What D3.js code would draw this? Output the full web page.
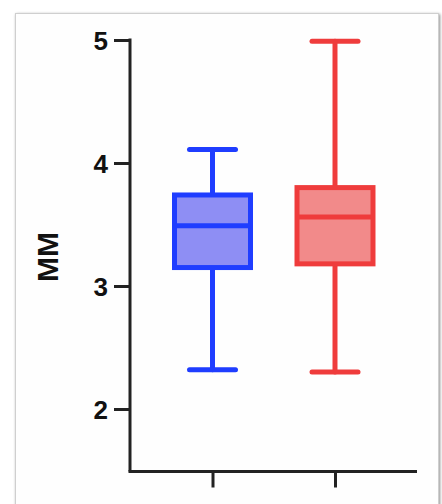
<!DOCTYPE html>
<html><head><meta charset="utf-8">
<script src="https://cdn.jsdelivr.net/npm/d3@7"></script>
<style>html,body{margin:0;padding:0;background:#fff;}svg{display:block;}</style>
</head><body>
<svg id="c" width="442" height="504"></svg>
<script>
const groups = ["A", "B"];
const mins = [2.32, 2.30];
const q1s = [3.15, 3.18];
const medians = [3.49, 3.56];
const q3s = [3.74, 3.80];
const maxs = [4.11, 4.99];
const strokeColors = ["#1f3dff", "#ef3c3c"];
const fillColors = ["#8e8ef4", "#f28a8a"];
const yTicks = [2, 3, 4, 5];
const yLabel = "MM";

const svg = d3.select("#c");
// frame with soft shadow
const defs = svg.append("defs");
const f = defs.append("filter").attr("id","sh").attr("x","-5%").attr("y","-5%").attr("width","110%").attr("height","110%");
f.append("feGaussianBlur").attr("in","SourceAlpha").attr("stdDeviation",1.5).attr("result","b");
f.append("feOffset").attr("in","b").attr("dx",1).attr("dy",1).attr("result","o");
f.append("feComponentTransfer").attr("in","o").attr("result","o2").append("feFuncA").attr("type","linear").attr("slope",0.45);
const m = f.append("feMerge"); m.append("feMergeNode").attr("in","o2"); m.append("feMergeNode").attr("in","SourceGraphic");
svg.append("rect").attr("x",15.5).attr("y",13.5).attr("width",423).attr("height",520)
  .attr("fill","#fefefe").attr("stroke","#cfcfcf").attr("stroke-width",1).attr("filter","url(#sh)");

const x = d3.scalePoint().domain(groups).range([212.5, 335]);
const y = d3.scaleLinear().domain([2, 5]).range([409, 40]);
const axisX0 = 130, axisY0 = 471.5, axisX1 = 417;

// y axis
const ya = svg.append("g").attr("transform", `translate(${axisX0},0)`)
  .call(d3.axisLeft(y).tickValues(yTicks).tickFormat(d3.format("d")).tickSize(16).tickSizeOuter(0));
ya.select(".domain").remove();
ya.selectAll(".tick line").attr("stroke","#222").attr("stroke-width",3);
ya.selectAll(".tick text").attr("font-family","Liberation Sans, Arial, sans-serif")
  .attr("font-weight","bold").attr("font-size",26).attr("fill","#111").attr("x",-22).attr("dy","0.36em");
svg.append("line").attr("x1",axisX0).attr("x2",axisX0).attr("y1",y(5)-1.5).attr("y2",axisY0)
  .attr("stroke","#222").attr("stroke-width",3);

// x axis
const xa = svg.append("g").attr("transform", `translate(0,${axisY0})`)
  .call(d3.axisBottom(x).tickSize(16).tickFormat(""));
xa.select(".domain").remove();
xa.selectAll(".tick line").attr("stroke","#222").attr("stroke-width",3);
svg.append("line").attr("x1",axisX0-1.5).attr("x2",axisX1).attr("y1",axisY0).attr("y2",axisY0)
  .attr("stroke","#222").attr("stroke-width",3);

// y label
svg.append("text").attr("transform","translate(58,257) rotate(-90)").attr("text-anchor","middle")
  .attr("font-family","Liberation Sans, Arial, sans-serif").attr("font-weight","bold").attr("font-size",30)
  .attr("fill","#111").text(yLabel);

// boxes
const boxW = 76, capW = 46, sw = 5;
groups.forEach((g, i) => {
  const cx = x(g);
  const gg = svg.append("g").attr("stroke", strokeColors[i]).attr("stroke-width", sw).attr("stroke-linecap","round");
  gg.append("line").attr("x1",cx).attr("x2",cx).attr("y1",y(maxs[i])).attr("y2",y(q3s[i]));
  gg.append("line").attr("x1",cx).attr("x2",cx).attr("y1",y(q1s[i])).attr("y2",y(mins[i]));
  gg.append("line").attr("x1",cx-capW/2).attr("x2",cx+capW/2).attr("y1",y(maxs[i])).attr("y2",y(maxs[i]));
  gg.append("line").attr("x1",cx-capW/2).attr("x2",cx+capW/2).attr("y1",y(mins[i])).attr("y2",y(mins[i]));
  gg.append("rect").attr("x",cx-boxW/2).attr("y",y(q3s[i])).attr("width",boxW).attr("height",y(q1s[i])-y(q3s[i]))
    .attr("fill",fillColors[i]).attr("stroke-linejoin","miter");
  gg.append("line").attr("x1",cx-boxW/2).attr("x2",cx+boxW/2).attr("y1",y(medians[i])).attr("y2",y(medians[i])).attr("stroke-linecap","butt");
});
</script>
</body></html>
